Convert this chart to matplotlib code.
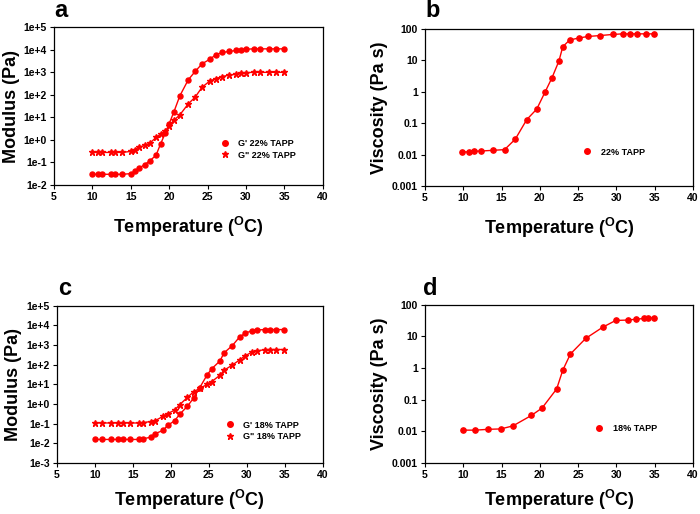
import matplotlib
matplotlib.use("Agg")
import matplotlib.pyplot as plt
from matplotlib.lines import Line2D

plt.rcParams['font.family'] = ['Liberation Sans', 'DejaVu Sans']
plt.rcParams['font.weight'] = 'bold'
plt.rcParams['mathtext.fontset'] = 'custom'
plt.rcParams['mathtext.rm'] = 'Liberation Sans:bold'
plt.rcParams['mathtext.bf'] = 'Liberation Sans:bold'

RED = '#ff0000'

# Panel a: 22% TAPP moduli
temp_a = [10.0, 10.8, 11.2, 12.4, 12.9, 13.9, 15.0, 15.5, 16.1, 16.8, 17.5, 18.3, 18.9, 19.5,
          20.0, 20.6, 21.4, 22.5, 23.4, 24.3, 25.3, 26.1, 26.9, 27.8, 28.7, 29.4, 30.0, 31.0,
          31.9, 33.0, 33.9, 34.9]
g1_22 = [0.03, 0.03, 0.03, 0.03, 0.03, 0.03, 0.032, 0.04, 0.056, 0.08, 0.12, 0.21, 0.68, 2.0,
         5.2, 16.7, 91, 470, 1100, 2400, 3800, 6100, 7600, 8400, 9300, 10200, 10600, 11000,
         11000, 11000, 11000, 11000]
g2_22 = [0.28, 0.28, 0.28, 0.28, 0.28, 0.28, 0.31, 0.37, 0.48, 0.57, 0.72, 1.3, 1.8, 2.4,
         4.2, 7.3, 13, 40, 80, 220, 410, 530, 650, 750, 820, 900, 970, 1000,
         1000, 1000, 1000, 1000]

# Panel b: 22% TAPP viscosity
temp_b = [9.9, 10.7, 11.4, 12.3, 13.9, 15.4, 16.8, 18.3, 19.6, 20.7, 21.6, 22.5, 23.0, 23.9,
          25.1, 26.3, 27.9, 29.5, 30.8, 31.8, 32.7, 33.8, 34.9]
visc_22 = [0.0122, 0.0122, 0.0128, 0.013, 0.0137, 0.0144, 0.031, 0.13, 0.28, 0.99, 2.8, 9.5,
           27, 44, 51, 57, 61, 66, 69, 69, 69, 69, 69]

# Panel c: 18% TAPP moduli
temp_c = [10.0, 11.0, 12.1, 13.1, 13.7, 14.7, 15.8, 16.3, 17.4, 17.9, 19.0, 19.6, 20.5, 21.2,
          22.2, 23.0, 23.8, 24.8, 25.4, 26.5, 27.0, 28.1, 29.1, 29.8, 30.7, 31.3, 32.4, 33.0,
          33.9, 34.9]
g1_18 = [0.016, 0.016, 0.016, 0.016, 0.016, 0.016, 0.016, 0.017, 0.021, 0.031, 0.046, 0.084,
         0.14, 0.31, 0.78, 2.0, 6.7, 31, 63, 160, 400, 940, 2700, 4000, 5500, 5900, 6200, 6200,
         6200, 6200]
g2_18 = [0.11, 0.11, 0.11, 0.11, 0.11, 0.11, 0.11, 0.115, 0.13, 0.14, 0.24, 0.33, 0.49, 0.95,
         2.2, 4.2, 6.3, 10, 14, 30, 52, 97, 180, 290, 440, 510, 590, 600, 600, 600]

# Panel d: 18% TAPP viscosity
temp_d = [10.0, 11.6, 13.3, 14.9, 16.5, 18.9, 20.3, 22.2, 23.0, 24.0, 26.0, 28.2, 29.9, 31.5,
          32.5, 33.6, 34.1, 34.9]
visc_18 = [0.011, 0.011, 0.0117, 0.012, 0.015, 0.032, 0.055, 0.22, 0.86, 2.8, 8.7, 19.5, 32,
           33, 35, 37, 38, 39]

xticks = [5, 10, 15, 20, 25, 30, 35, 40]

fig = plt.figure(figsize=(7.0, 5.14), dpi=100)

def style(ax, ylabel, yticks, ylabels, ylim, xpad):
    ax.set_yscale('log')
    ax.set_xlim(5, 40)
    ax.set_ylim(*ylim)
    ax.set_xticks(xticks)
    ax.set_xticklabels([str(t) for t in xticks])
    ax.set_yticks(yticks)
    ax.set_yticklabels(ylabels)
    ax.minorticks_off()
    ax.tick_params(axis='both', direction='out', length=3, width=0.8, labelsize=7.5, pad=2)
    for lab in ax.get_xticklabels() + ax.get_yticklabels():
        lab.set_fontweight('bold')
    for s in ax.spines.values():
        s.set_linewidth(0.9)
    ax.set_xlabel(r'Temperature ($\mathbf{^O}$C)', fontsize=13, fontweight='bold', labelpad=xpad)
    ax.set_ylabel(ylabel, fontsize=13, fontweight='bold', labelpad=3)

def legend(ax, handles, labels, anchor):
    ax.legend(handles, labels, loc='upper left', bbox_to_anchor=anchor, frameon=False,
              handlelength=0.6, handletextpad=1.2, labelspacing=0.25,
              borderaxespad=0, borderpad=0, prop={'weight': 'bold', 'size': 6.5})

mod_ticks_a = [1e-2, 1e-1, 1, 1e1, 1e2, 1e3, 1e4, 1e5]
mod_labels_a = ['1e-2', '1e-1', '1e+0', '1e+1', '1e+2', '1e+3', '1e+4', '1e+5']
mod_ticks_c = [1e-3] + mod_ticks_a
mod_labels_c = ['1e-3'] + mod_labels_a
visc_ticks = [1e-3, 1e-2, 1e-1, 1, 10, 100]
visc_labels = ['0.001', '0.01', '0.1', '1', '10', '100']

circ = Line2D([], [], ls='none', marker='o', color=RED, markersize=4)
star = Line2D([], [], ls='none', marker='*', color=RED, markersize=5)

# a
ax = fig.add_axes([0.077, 0.640, 0.384, 0.307])
ax.plot(temp_a, g1_22, '-', color=RED, lw=1, marker='o', ms=3.6)
ax.plot(temp_a, g2_22, '-', color=RED, lw=1, marker='*', ms=4.5)
style(ax, 'Modulus (Pa)', mod_ticks_a, mod_labels_a, (1e-2, 1e5), 9)
legend(ax, [circ, star], ["G' 22% TAPP", 'G" 22% TAPP'], (0.625, 0.29))

# b
ax = fig.add_axes([0.607, 0.638, 0.383, 0.306])
ax.plot(temp_b, visc_22, '-', color=RED, lw=1, marker='o', ms=3.8)
style(ax, 'Viscosity (Pa s)', visc_ticks, visc_labels, (1e-3, 100), 9)
legend(ax, [circ], ['22% TAPP'], (0.595, 0.245))

# c
ax = fig.add_axes([0.081, 0.099, 0.380, 0.306])
ax.plot(temp_c, g1_18, '-', color=RED, lw=1, marker='o', ms=3.6)
ax.plot(temp_c, g2_18, '-', color=RED, lw=1, marker='*', ms=4.5)
style(ax, 'Modulus (Pa)', mod_ticks_c, mod_labels_c, (1e-3, 1e5), 6)
legend(ax, [circ, star], ["G' 18% TAPP", 'G" 18% TAPP'], (0.64, 0.27))

# d
ax = fig.add_axes([0.607, 0.099, 0.383, 0.308])
ax.plot(temp_d, visc_18, '-', color=RED, lw=1, marker='o', ms=3.8)
style(ax, 'Viscosity (Pa s)', visc_ticks, visc_labels, (1e-3, 100), 6)
legend(ax, [circ], ['18% TAPP'], (0.64, 0.245))

for lab, x, y in [('a', 0.077, 0.966), ('b', 0.608, 0.966), ('c', 0.083, 0.426), ('d', 0.605, 0.426)]:
    fig.text(x, y, lab, fontsize=17, fontweight='bold', ha='left', va='baseline')

fig.savefig('out.png', dpi=100)
